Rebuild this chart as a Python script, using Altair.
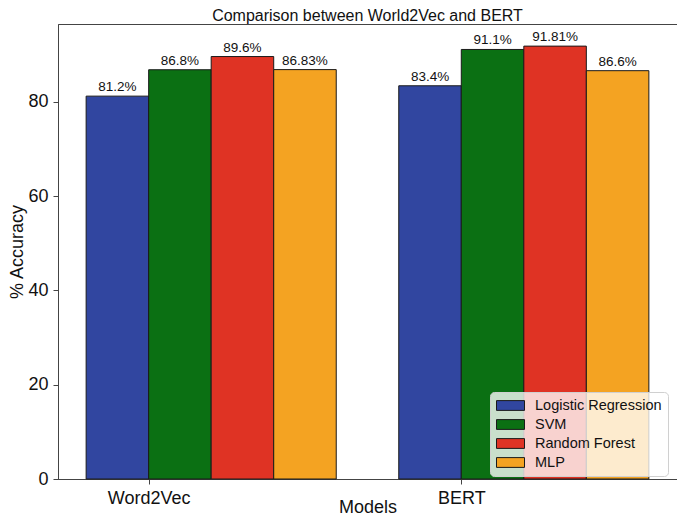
import altair as alt
import pandas as pd

models = ["Word2Vec", "BERT"]
classifiers = ["Logistic Regression", "SVM", "Random Forest", "MLP"]
word2vec_acc = [81.2, 86.8, 89.6, 86.83]
bert_acc = [83.4, 91.1, 91.81, 86.6]
word2vec_labels = ["81.2%", "86.8%", "89.6%", "86.83%"]
bert_labels = ["83.4%", "91.1%", "91.81%", "86.6%"]
colors = ["#3146A0", "#0B7013", "#DF3324", "#F4A322"]
y_ticks = [0, 20, 40, 60, 80]

bar_w = 0.2
rows = []
for mi, (m, accs, labs) in enumerate([(models[0], word2vec_acc, word2vec_labels),
                                      (models[1], bert_acc, bert_labels)]):
    for ci, c in enumerate(classifiers):
        x0 = mi + (ci - 1) * bar_w
        rows.append({"model": m, "classifier": c, "acc": accs[ci], "label": labs[ci],
                     "x0": x0, "x1": x0 + bar_w, "xc": x0 + bar_w / 2})
df = pd.DataFrame(rows)

FONT = "Liberation Sans"
xscale = alt.Scale(domain=[-0.29, 1.69], nice=False, zero=False)
yscale = alt.Scale(domain=[0, 96.5], nice=False)

base = alt.Chart(df)

bars = base.mark_bar(stroke="#1a1a1a", strokeWidth=1, opacity=1).encode(
    x=alt.X("x0:Q", scale=xscale,
            axis=alt.Axis(values=[0, 1], title="Models",
                          labelExpr="datum.value == 0 ? 'Word2Vec' : 'BERT'",
                          grid=False, labelFontSize=18, titleFontSize=18,
                          labelColor="#111", titleColor="#111", titleFontWeight="normal",
                          tickSize=5, labelPadding=5, titlePadding=-9,
                          domainColor="#444", tickColor="#444")),
    x2="x1:Q",
    y=alt.Y("acc:Q", scale=yscale,
            axis=alt.Axis(values=y_ticks, title="% Accuracy", grid=False,
                          labelFontSize=18, titleFontSize=18, labelColor="#111",
                          titleColor="#111", titleFontWeight="normal",
                          tickSize=5, labelPadding=5, titlePadding=1,
                          domainColor="#444", tickColor="#444")),
    y2=alt.datum(0),
    color=alt.Color("classifier:N", sort=classifiers,
                    scale=alt.Scale(domain=classifiers, range=colors),
                    legend=alt.Legend(title=None, orient="none", legendX=432, legendY=368,
                                      symbolType="M-1,-0.7h4v1.4h-4z", symbolSize=196,
                                      symbolStrokeColor="#1a1a1a", symbolStrokeWidth=1,
                                      symbolOpacity=1,
                                      labelFontSize=14.5, labelFont=FONT, labelColor="#111",
                                      fillColor="rgba(255,255,255,0.78)", strokeColor="#d0d0d0",
                                      cornerRadius=4, padding=6, rowPadding=3, labelOffset=24,
                                      labelLimit=300)),
)

texts = base.mark_text(baseline="bottom", dy=-2, fontSize=13.5, font=FONT, color="#111").encode(
    x=alt.X("xc:Q", scale=xscale),
    y=alt.Y("acc:Q", scale=yscale),
    text="label:N",
)

chart = (bars + texts).properties(
    width=619, height=455,
    title=alt.TitleParams("Comparison between World2Vec and BERT", fontSize=16,
                          font=FONT, fontWeight="normal", color="#111", offset=0),
    autosize=alt.AutoSizeParams(type="none"),
    padding={"left": 50, "top": 16, "right": 0, "bottom": 36},
).configure(font=FONT).configure_view(stroke="#444", strokeWidth=1)

chart.save("out.html", embed_options={"renderer": "svg", "actions": False})
